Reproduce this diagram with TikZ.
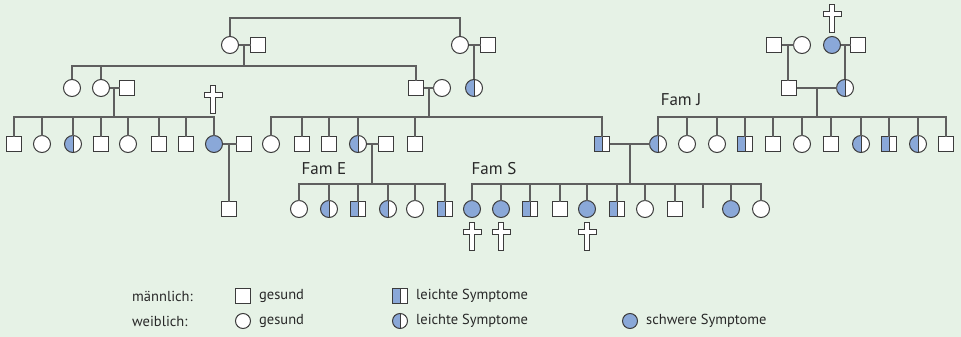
\documentclass[tikz,border=0pt]{standalone}
\usepackage{fontspec}
\setmainfont{PT Sans}
\usetikzlibrary{calc}

\definecolor{bg}{RGB}{230,242,230}
\definecolor{sick}{RGB}{138,168,216}
\definecolor{linecol}{RGB}{95,95,95}
\definecolor{symcol}{RGB}{60,60,60}
\definecolor{txt}{RGB}{40,40,40}

\tikzset{
  link/.style={draw=linecol, line width=1.2pt},
  person/.style={draw=symcol, line width=1pt, fill=white, inner sep=0pt, outer sep=0pt},
  male/.style={person, rectangle, minimum size=15pt},
  female/.style={person, circle, minimum size=17pt},
  halb/.style={path picture={
      \fill[sick] (path picture bounding box.south west) rectangle (path picture bounding box.north);
      \draw[symcol, line width=1pt] (path picture bounding box.south) -- (path picture bounding box.north);}},
  maleL/.style={male, halb},
  femaleL/.style={female, halb},
  femaleS/.style={female, fill=sick},
  famlabel/.style={font=\fontsize{17}{20}\selectfont, text=txt, inner sep=0pt},
  legtext/.style={font=\fontsize{14.5}{16}\selectfont, text=txt, anchor=west, inner sep=0pt},
  kreuz/.style={draw=symcol, fill=white, line width=0.8pt}
}

\newcommand{\grabkreuz}[1]{\draw[kreuz] (#1) ++(-2.5,0) -- ++(5,0) -- ++(0,7) -- ++(6.5,0) -- ++(0,5) -- ++(-6.5,0) -- ++(0,16) -- ++(-5,0) -- ++(0,-16) -- ++(-6.5,0) -- ++(0,-5) -- ++(6.5,0) -- cycle;}

\begin{document}
\begin{tikzpicture}[x=1pt, y=-1pt]

\fill[bg] (0,0) rectangle (961,337);
\useasboundingbox (0,0) rectangle (961,337);

% Generation I
\node[female]  (a1) at (230,45) {};
\node[male]    (a2) at (258,45) {};
\node[female]  (b1) at (460,45) {};
\node[male]    (b2) at (488,45) {};
\node[male]    (j1) at (774,45) {};
\node[female]  (j2) at (802,45) {};
\node[femaleS] (j3) at (832,45) {};
\node[male]    (j4) at (858,45) {};

% Generation II
\node[female]  (c1) at (72,88) {};
\node[female]  (c2) at (101,88) {};
\node[male]    (c3) at (127,88) {};
\node[male]    (c4) at (416,88) {};
\node[female]  (c5) at (442,88) {};
\node[femaleL] (c6) at (474,88) {};
\node[male]    (j5) at (789,88) {};
\node[femaleL] (j6) at (845,88) {};

% Generation III
\node[male]    (d1) at (14,144) {};
\node[female]  (d2) at (42,144) {};
\node[femaleL] (d3) at (73,144) {};
\node[male]    (d4) at (101,144) {};
\node[female]  (d5) at (128,144) {};
\node[male]    (d6) at (159,144) {};
\node[male]    (d7) at (186,144) {};
\node[femaleS] (d8) at (214,144) {};
\node[male]    (d9) at (244,144) {};

\node[female]  (e1) at (271,144) {};
\node[male]    (e2) at (302,144) {};
\node[male]    (e3) at (329,144) {};
\node[femaleL] (e4) at (358,144) {};
\node[male]    (e5) at (386,144) {};
\node[male]    (e6) at (415,144) {};
\node[maleL]   (e7) at (602,144) {};

\node[femaleL] (f1) at (658,144) {};
\node[female]  (f2) at (687,144) {};
\node[female]  (f3) at (717,144) {};
\node[maleL]   (f4) at (745,144) {};
\node[male]    (f5) at (773,144) {};
\node[female]  (f6) at (802,144) {};
\node[male]    (f7) at (831,144) {};
\node[femaleL] (f8) at (861,144) {};
\node[maleL]   (f9) at (889,144) {};
\node[femaleL] (f10) at (918,144) {};
\node[male]    (f11) at (946,144) {};

% Generation IV
\node[male]    (g0) at (229,209) {};

\node[female]  (g1) at (299,209) {};
\node[femaleL] (g2) at (329,209) {};
\node[maleL]   (g3) at (358,209) {};
\node[femaleL] (g4) at (388,209) {};
\node[female]  (g5) at (415,209) {};
\node[maleL]   (g6) at (445,209) {};

\node[femaleS] (h1) at (472,209) {};
\node[femaleS] (h2) at (501,209) {};
\node[maleL]   (h3) at (530,209) {};
\node[male]    (h4) at (560,209) {};
\node[femaleS] (h5) at (587,209) {};
\node[maleL]   (h6) at (617,209) {};
\node[female]  (h7) at (645,209) {};
\node[male]    (h8) at (675,209) {};
\coordinate    (h9) at (703,208);
\node[femaleS] (h10) at (731,209) {};
\node[female]  (h11) at (761,209) {};

% Ehen und Abstammung
\coordinate (t0) at (345,18);
\draw[link] (a1.north) |- (t0) -| (b1.north);

\draw[link] (a1) -- (a2);
\coordinate (m1) at ($(a1)!.5!(a2)$);
\path (m1) ++(0,21) coordinate (s1);
\draw[link] (m1) -- (s1);
\draw[link] (c1.north) |- (s1) (c2.north) |- (s1) (c4.north) |- (s1);

\draw[link] (b1) -- (b2);
\coordinate (m2) at ($(b1)!.5!(b2)$);
\draw[link] (m2) -- (c6.north);

\draw[link] (j1) -- (j2);
\coordinate (m3) at ($(j1)!.5!(j2)$);
\draw[link] (m3) -- (m3 |- j5.north);
\draw[link] (j3) -- (j4);
\coordinate (m4) at ($(j3)!.5!(j4)$);
\draw[link] (m4) -- (m4 |- j6.north);

\draw[link] (c2) -- (c3);
\coordinate (m5) at ($(c2)!.5!(c3)$);
\path (m5) ++(0,29) coordinate (s5);
\draw[link] (m5) -- (s5);
\draw[link] (d1.north) |- (s5) (d2.north) |- (s5) (d3.north) |- (s5) (d4.north) |- (s5)
            (d5.north) |- (s5) (d6.north) |- (s5) (d7.north) |- (s5) (d8.north) |- (s5);

\draw[link] (c4) -- (c5);
\coordinate (m6) at ($(c4)!.5!(c5)$);
\path (m6) ++(0,29) coordinate (s6);
\draw[link] (m6) -- (s6);
\draw[link] (e1.north) |- (s6) (e2.north) |- (s6) (e3.north) |- (s6) (e4.north) |- (s6)
            (e6.north) |- (s6) (e7.north) |- (s6);

\draw[link] (j5) -- (j6);
\coordinate (m7) at ($(j5)!.5!(j6)$);
\path (m7) ++(0,29) coordinate (s7);
\draw[link] (m7) -- (s7);
\draw[link] (f1.north) |- (s7) (f2.north) |- (s7) (f3.north) |- (s7) (f4.north) |- (s7)
            (f5.north) |- (s7) (f6.north) |- (s7) (f7.north) |- (s7) (f8.north) |- (s7)
            (f9.north) |- (s7) (f10.north) |- (s7) (f11.north) |- (s7);

\draw[link] (d8) -- (d9);
\coordinate (m8) at ($(d8)!.5!(d9)$);
\draw[link] (m8) -- (m8 |- g0.north);

\draw[link] (e4) -- (e5);
\coordinate (m9) at ($(e4)!.5!(e5)$);
\path (m9) ++(0,40) coordinate (s9);
\draw[link] (m9) -- (s9);
\draw[link] (g1.north) |- (s9) (g2.north) |- (s9) (g3.north) |- (s9)
            (g4.north) |- (s9) (g5.north) |- (s9) (g6.north) |- (s9);

\draw[link] (e7) -- (f1);
\coordinate (m10) at ($(e7)!.5!(f1)$);
\path (m10) ++(0,40) coordinate (s10);
\draw[link] (m10) -- (s10);
\draw[link] (h1.north) |- (s10) (h2.north) |- (s10) (h3.north) |- (s10) (h4.north) |- (s10)
            (h5.north) |- (s10) (h6.north) |- (s10) (h7.north) |- (s10) (h8.north) |- (s10)
            (h9) |- (s10) (h10.north) |- (s10) (h11.north) |- (s10);

% Kreuze
\grabkreuz{213,85}
\grabkreuz{832,4}
\grabkreuz{472,222}
\grabkreuz{501,222}
\grabkreuz{587,222}

% Familien
\node[famlabel] (famE) at (324,169) {Fam E};
\node[famlabel] (famS) at (494,169) {Fam S};
\node[famlabel] (famJ) at (681,100) {Fam J};

% Legende
\node[legtext] (lmt) at (132,296) {männlich:};
\node[male]    (lm)  at (243,296) {};
\node[legtext] (lmg) at (259,296) {gesund};
\node[maleL]   (lmL) at (400,296) {};
\node[legtext] (lml) at (416,296) {leichte Symptome};

\node[legtext] (lft) at (132,321) {weiblich:};
\node[female, minimum size=15pt]  (lf)  at (243,321) {};
\node[legtext] (lfg) at (259,321) {gesund};
\node[femaleL, minimum size=15pt] (lfL) at (400,321) {};
\node[legtext] (lfl) at (416,321) {leichte Symptome};
\node[femaleS, minimum size=15pt] (lfS) at (630,321) {};
\node[legtext] (lfs) at (646,321) {schwere Symptome};

\end{tikzpicture}
\end{document}
